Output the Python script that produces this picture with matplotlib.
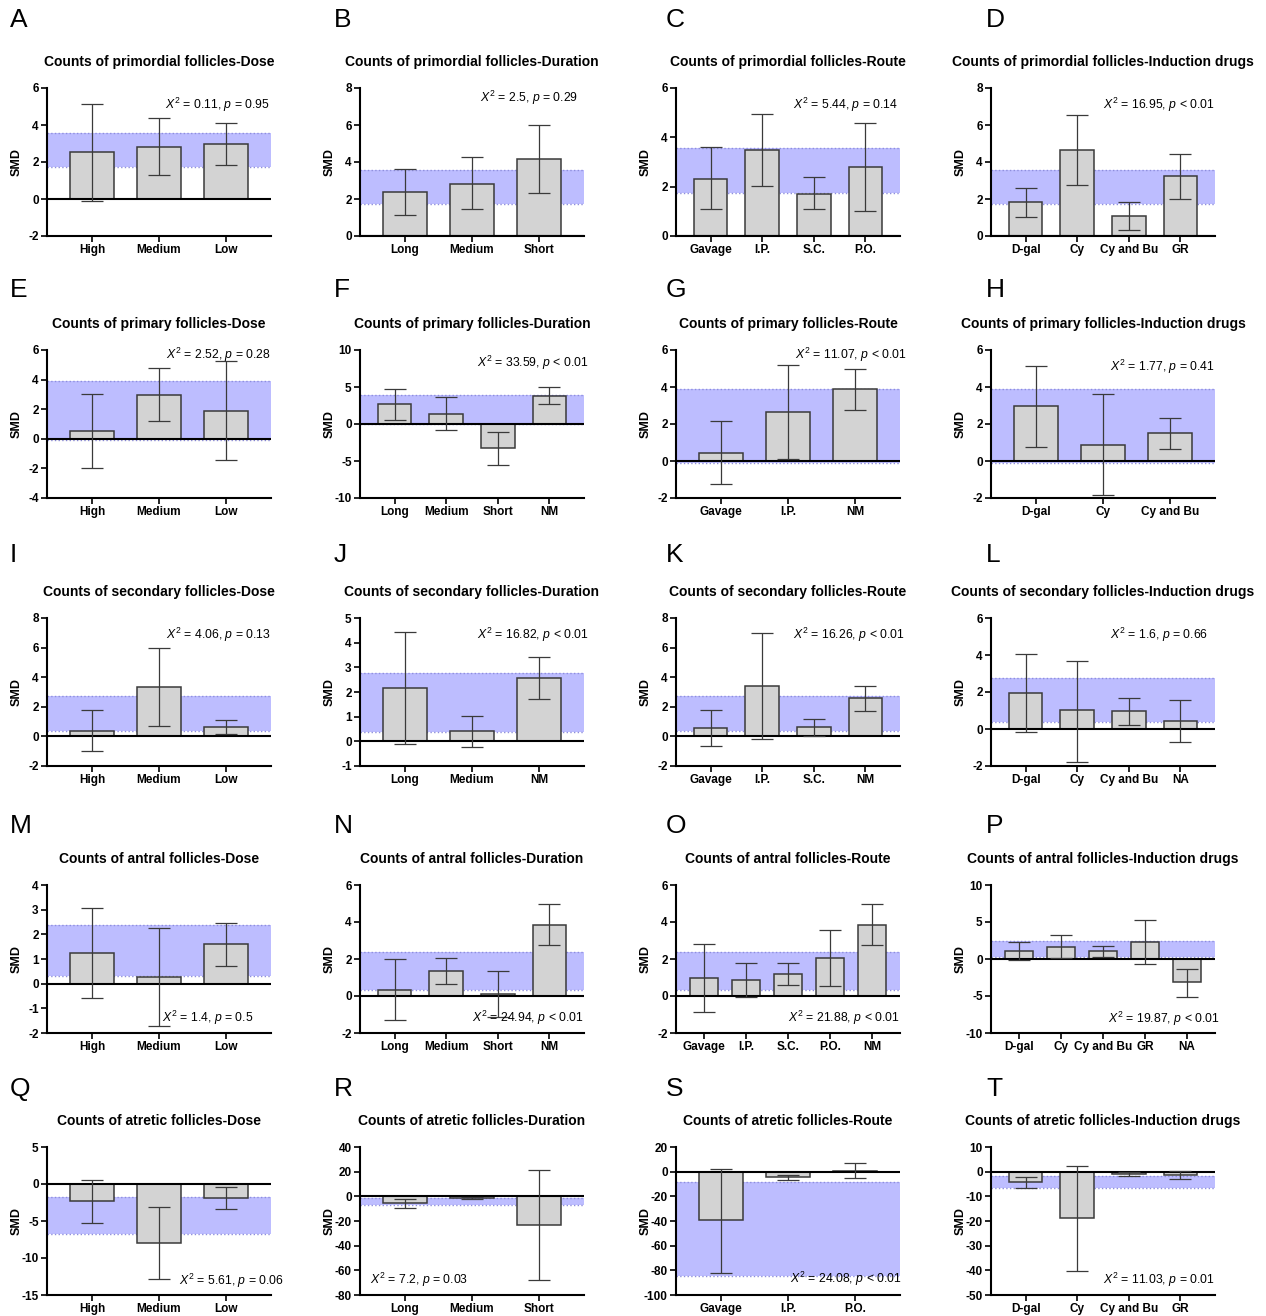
import numpy as np
import matplotlib.pyplot as plt

plt.rcParams['font.family'] = ['Liberation Sans', 'DejaVu Sans']
plt.rcParams['mathtext.fontset'] = 'custom'
plt.rcParams['mathtext.rm'] = 'Liberation Sans'
plt.rcParams['mathtext.it'] = 'Liberation Sans:italic'
plt.rcParams['axes.unicode_minus'] = False

# category labels
dose = ['High', 'Medium', 'Low']
dur3 = ['Long', 'Medium', 'Short']
dur4 = ['Long', 'Medium', 'Short', 'NM']
durJ = ['Long', 'Medium', 'NM']
route_C = ['Gavage', 'I.P.', 'S.C.', 'P.O.']
route_G = ['Gavage', 'I.P.', 'NM']
route_K = ['Gavage', 'I.P.', 'S.C.', 'NM']
route_O = ['Gavage', 'I.P.', 'S.C.', 'P.O.', 'NM']
route_S = ['Gavage', 'I.P.', 'P.O.']
drug_D = ['D-gal', 'Cy', 'Cy and Bu', 'GR']
drug_H = ['D-gal', 'Cy', 'Cy and Bu']
drug_L = ['D-gal', 'Cy', 'Cy and Bu', 'NA']
drug_P = ['D-gal', 'Cy', 'Cy and Bu', 'GR', 'NA']

# SMD with 95% CI (lower, upper)
smd_A = [2.52, 2.82, 2.97];        lo_A = [-0.10, 1.32, 1.85];        hi_A = [5.15, 4.37, 4.13]
smd_B = [2.37, 2.83, 4.15];        lo_B = [1.15, 1.45, 2.30];         hi_B = [3.60, 4.27, 6.00]
smd_C = [2.33, 3.50, 1.72, 2.80];  lo_C = [1.08, 2.03, 1.08, 1.03];   hi_C = [3.60, 4.93, 2.38, 4.57]
smd_D = [1.83, 4.65, 1.08, 3.23];  lo_D = [1.05, 2.75, 0.33, 2.00];   hi_D = [2.62, 6.55, 1.85, 4.45]

smd_E = [0.50, 2.98, 1.90];        lo_E = [-1.97, 1.20, -1.45];       hi_E = [3.02, 4.75, 5.28]
smd_F = [2.65, 1.35, -3.30, 3.85]; lo_F = [0.55, -0.80, -5.50, 2.75]; hi_F = [4.75, 3.60, -1.10, 4.95]
smd_G = [0.45, 2.65, 3.88];        lo_G = [-1.22, 0.10, 2.78];        hi_G = [2.15, 5.20, 4.97]
smd_H = [2.95, 0.88, 1.50];        lo_H = [0.78, -1.83, 0.65];        hi_H = [5.12, 3.60, 2.35]

smd_I = [0.38, 3.35, 0.65];        lo_I = [-1.02, 0.70, 0.17];        hi_I = [1.80, 6.00, 1.12]
smd_J = [2.15, 0.40, 2.57];        lo_J = [-0.12, -0.22, 1.72];       hi_J = [4.43, 1.03, 3.43]
smd_K = [0.58, 3.40, 0.62, 2.57];  lo_K = [-0.65, -0.18, 0.05, 1.72]; hi_K = [1.80, 6.97, 1.18, 3.43]
smd_L = [1.93, 1.02, 0.95, 0.42];  lo_L = [-0.17, -1.78, 0.20, -0.72]; hi_L = [4.05, 3.67, 1.70, 1.58]

smd_M = [1.24, 0.28, 1.60];        lo_M = [-0.57, -1.70, 0.73];       hi_M = [3.07, 2.27, 2.45]
smd_N = [0.33, 1.35, 0.10, 3.85];  lo_N = [-1.32, 0.67, -1.15, 2.78]; hi_N = [2.00, 2.08, 1.35, 4.97]
smd_O = [0.95, 0.87, 1.17, 2.03, 3.85]
lo_O = [-0.88, -0.03, 0.58, 0.53, 2.78]
hi_O = [2.80, 1.77, 1.78, 3.55, 4.97]
smd_P = [1.05, 1.65, 1.02, 2.28, -3.15]
lo_P = [-0.15, 0.20, 0.30, -0.70, -5.10]
hi_P = [2.28, 3.20, 1.80, 5.25, -1.30]

smd_Q = [-2.35, -8.00, -1.85];     lo_Q = [-5.30, -12.90, -3.35];     hi_Q = [0.60, -3.15, -0.40]
smd_R = [-5.8, -1.1, -23.0];       lo_R = [-9.7, -2.0, -68.0];        hi_R = [-2.3, -0.3, 21.0]
smd_S = [-39.5, -4.5, 0.6];        lo_S = [-82.0, -6.5, -5.5];        hi_S = [2.3, -2.8, 6.7]
smd_T = [-4.1, -18.9, -0.8, -1.2]; lo_T = [-6.5, -40.2, -1.7, -2.8];  hi_T = [-2.0, 2.2, -0.1, 0.2]

# pooled CI bands
band_primordial = (1.75, 3.55)
band_primary = (-0.10, 3.90)
band_secondary = (0.38, 2.76)
band_antral = (0.32, 2.38)
band_atretic = (-6.8, -1.7)
band_S = (-84.5, -8.0)

# subgroup tests
chi = ['0.11', '2.5', '5.44', '16.95', '2.52', '33.59', '11.07', '1.77',
       '4.06', '16.82', '16.26', '1.6', '1.4', '24.94', '21.88', '19.87',
       '5.61', '7.2', '24.08', '11.03']
pval = ['= 0.95', '= 0.29', '= 0.14', '< 0.01', '= 0.28', '< 0.01', '< 0.01', '= 0.41',
        '= 0.13', '< 0.01', '< 0.01', '= 0.66', '= 0.5', '< 0.01', '< 0.01', '< 0.01',
        '= 0.06', '= 0.03', '< 0.01', '= 0.01']

follicle = ['primordial', 'primary', 'secondary', 'antral', 'atretic']
subgroup = ['Dose', 'Duration', 'Route', 'Induction drugs']

panels = [
    (dose, smd_A, lo_A, hi_A, band_primordial), (dur3, smd_B, lo_B, hi_B, band_primordial),
    (route_C, smd_C, lo_C, hi_C, band_primordial), (drug_D, smd_D, lo_D, hi_D, band_primordial),
    (dose, smd_E, lo_E, hi_E, band_primary), (dur4, smd_F, lo_F, hi_F, (0.0, 3.9)),
    (route_G, smd_G, lo_G, hi_G, band_primary), (drug_H, smd_H, lo_H, hi_H, band_primary),
    (dose, smd_I, lo_I, hi_I, band_secondary), (durJ, smd_J, lo_J, hi_J, band_secondary),
    (route_K, smd_K, lo_K, hi_K, band_secondary), (drug_L, smd_L, lo_L, hi_L, band_secondary),
    (dose, smd_M, lo_M, hi_M, band_antral), (dur4, smd_N, lo_N, hi_N, band_antral),
    (route_O, smd_O, lo_O, hi_O, band_antral), (drug_P, smd_P, lo_P, hi_P, band_antral),
    (dose, smd_Q, lo_Q, hi_Q, band_atretic), (dur3, smd_R, lo_R, hi_R, band_atretic),
    (route_S, smd_S, lo_S, hi_S, band_S), (drug_D, smd_T, lo_T, hi_T, band_atretic),
]

# axis settings (ymin, ymax, step)
yaxes = [(-2, 6, 2), (0, 8, 2), (0, 6, 2), (0, 8, 2),
         (-4, 6, 2), (-10, 10, 5), (-2, 6, 2), (-2, 6, 2),
         (-2, 8, 2), (-1, 5, 1), (-2, 8, 2), (-2, 6, 2),
         (-2, 4, 1), (-2, 6, 2), (-2, 6, 2), (-10, 10, 5),
         (-15, 5, 5), (-80, 40, 20), (-100, 20, 20), (-50, 10, 10)]
# annotation placement (x frac, y frac, ha)
ann = [(0.995, 0.885, 'right'), (0.973, 0.932, 'right'), (0.99, 0.885, 'right'), (1.0, 0.885, 'right'),
       (1.0, 0.966, 'right'), (1.02, 0.912, 'right'), (1.03, 0.966, 'right'), (1.0, 0.884, 'right'),
       (1.0, 0.884, 'right'), (1.02, 0.884, 'right'), (1.02, 0.884, 'right'), (0.97, 0.884, 'right'),
       (0.92, 0.10, 'right'), (1.0, 0.10, 'right'), (1.0, 0.10, 'right'), (1.02, 0.095, 'right'),
       (1.06, 0.095, 'right'), (0.045, 0.10, 'left'), (1.01, 0.11, 'right'), (1.0, 0.10, 'right')]

W, H = 1266, 1316
fig = plt.figure(figsize=(W / 100, H / 100), dpi=100)
lefts = [47, 360, 676, 991]
tops = [88, 350, 618, 885, 1147]
letter_x = [10, 334, 666, 986]
letter_y = [20, 290, 555, 826, 1089]
aw, ah = 224, 148

bar_c = '#D3D3D3'
edge_c = '#3A3A3A'
band_c = '#BDBDFF'
band_edge = '#8E8EDC'

for i, (cats, smd, lo, hi, band) in enumerate(panels):
    r, c = divmod(i, 4)
    ax = fig.add_axes([lefts[c] / W, 1 - (tops[r] + ah) / H, aw / W, ah / H])
    n = len(cats)
    x = np.arange(n)
    smd = np.array(smd)
    err = [smd - np.array(lo), np.array(hi) - smd]

    ax.axhspan(band[0], band[1], color=band_c, lw=0, zorder=0)
    for b in band:
        ax.axhline(b, color=band_edge, ls=':', lw=1.0, zorder=0.5)
    ax.bar(x, smd, width=0.65, color=bar_c, edgecolor=edge_c, lw=1.1, zorder=2)
    ax.errorbar(x, smd, yerr=err, fmt='none', ecolor=edge_c, elinewidth=0.9,
                capsize=8, capthick=0.9, zorder=3)
    ax.axhline(0, color='black', lw=1.5, zorder=2.5)

    ymin, ymax, step = yaxes[i]
    ax.set_ylim(ymin, ymax)
    ax.set_yticks(np.arange(ymin, ymax + step / 2, step))
    ax.set_xlim(-0.67, n - 0.33)
    ax.set_xticks(x)
    ax.set_xticklabels(cats)
    for s in ['top', 'right']:
        ax.spines[s].set_visible(False)
    for s in ['left', 'bottom']:
        ax.spines[s].set_linewidth(1.5)
    ax.tick_params(axis='both', length=4, width=1.2, labelsize=8.5, pad=2)
    for lab in ax.get_xticklabels() + ax.get_yticklabels():
        lab.set_fontweight('bold')
    ax.set_ylabel('SMD', fontsize=9, fontweight='bold')
    ax.yaxis.set_label_coords(-24 / aw, 0.5)

    ax.text(0.5, 1 + 26 / ah, 'Counts of %s follicles-%s' % (follicle[r], subgroup[c]),
            transform=ax.transAxes, ha='center', va='center', fontsize=10, fontweight='bold')
    ax_x, ax_y, ha = ann[i]
    ax.text(ax_x, ax_y, r'$\mathit{X}^2$ = %s, $\mathit{p}$ %s' % (chi[i], pval[i]),
            transform=ax.transAxes, ha=ha, va='center', fontsize=8.8, zorder=5)

    fig.text(letter_x[c] / W, 1 - letter_y[r] / H, 'ABCDEFGHIJKLMNOPQRST'[i],
             fontsize=19, ha='left', va='center')

fig.savefig('out.png', dpi=100)
